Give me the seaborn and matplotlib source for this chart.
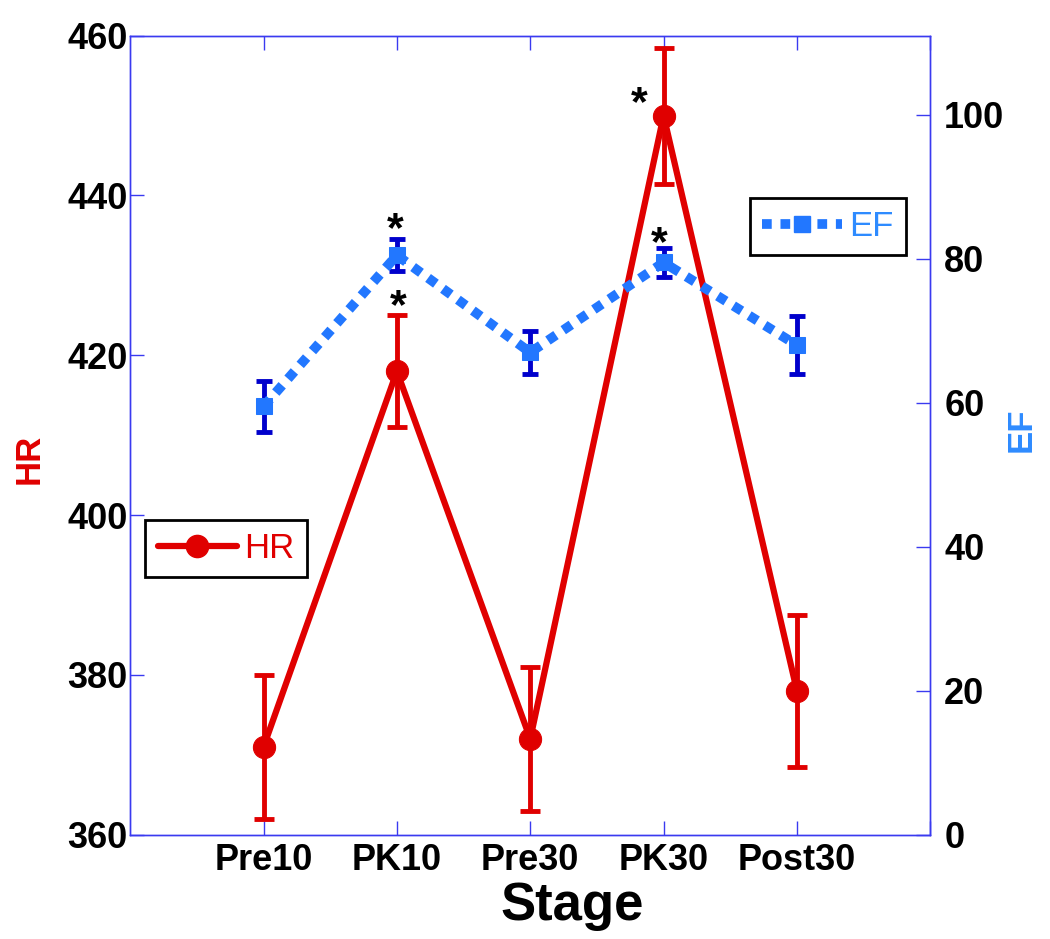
import numpy as np
import matplotlib.pyplot as plt
import seaborn as sns
from matplotlib.lines import Line2D

# values
stages = ["Pre10", "PK10", "Pre30", "PK30", "Post30"]
hr_mean = [371, 418, 372, 450, 378]
hr_err = [9, 7, 9, 8.5, 9.5]
ef_mean = [59.5, 80.5, 67, 79.5, 68]
ef_err = [3.5, 2.2, 3, 2, 4]

sns.set_style("white")
plt.rcParams["font.family"] = ["Liberation Sans", "DejaVu Sans"]

red = "#e00000"
blue = "#2277ff"
label_blue = "#2e8bff"
dark_blue = "#0000cc"
spine_blue = "#3a3af0"

x = np.arange(1, len(stages) + 1)

fig = plt.figure(figsize=(10.5, 9.39), dpi=100)
ax = fig.add_axes([0.124, 0.111, 0.762, 0.851])
ax2 = ax.twinx()

# HR on the left axis
ax.errorbar(x, hr_mean, yerr=hr_err, fmt="none", ecolor=red, elinewidth=3.5,
            capsize=7, capthick=3.5, zorder=2)
sns.lineplot(x=x, y=hr_mean, ax=ax, color=red, linewidth=4.5, marker="o",
             markersize=16, markeredgecolor=red, zorder=3)

# EF on the right axis
ax2.errorbar(x, ef_mean, yerr=ef_err, fmt="none", ecolor=dark_blue, elinewidth=3.5,
             capsize=6, capthick=3.5, zorder=2)
sns.lineplot(x=x, y=ef_mean, ax=ax2, color=blue, linewidth=7,
             linestyle=(0, (1.0, 0.9)), dash_capstyle="butt", marker="s",
             markersize=12, markeredgecolor=blue, zorder=3)

ax.set_xlim(0, 6)
ax.set_ylim(360, 460)
ax.set_yticks([360, 380, 400, 420, 440, 460])
ax2.set_ylim(0, 111)
ax2.set_yticks([0, 20, 40, 60, 80, 100])
ax.set_xticks(x)
ax.set_xticks([6], minor=True)
ax.set_xticklabels(stages)

for a in (ax, ax2):
    for s in a.spines.values():
        s.set_color(spine_blue)
        s.set_linewidth(1.0)
        s.set_visible(True)

ax.tick_params(axis="x", which="both", direction="in", length=10, width=1,
               color=spine_blue, top=True, bottom=True, pad=6,
               labelsize=26, labelcolor="black")
ax.tick_params(axis="y", direction="in", length=10, width=1, color=spine_blue,
               left=True, right=False, pad=2, labelsize=26, labelcolor="black")
ax2.tick_params(axis="y", direction="in", length=10, width=1, color=spine_blue,
                right=True, pad=10, labelsize=26, labelcolor="black")
for lab in ax.get_xticklabels() + ax.get_yticklabels() + ax2.get_yticklabels():
    lab.set_fontweight("bold")

ax.set_xlabel("Stage", fontsize=38, fontweight="bold", color="black")
ax.xaxis.set_label_coords(0.5525, -0.058)
ax.set_ylabel("HR", fontsize=25, fontweight="bold", color=red)
ax.yaxis.set_label_coords(-0.106, 0.47)
ax2.set_ylabel("EF", fontsize=25, fontweight="bold", color=label_blue, rotation=90)
ax2.yaxis.set_label_coords(1.093, 0.507)

# significance markers
star = dict(fontsize=31, fontweight="bold", ha="center", va="center", color="black")
ax.text(2.01, 426.0, "*", **star)
ax.text(3.82, 451.5, "*", **star)
ax2.text(1.99, 84.0, "*", **star)
ax2.text(3.97, 82.0, "*", **star)

# legends
hr_handle = Line2D([], [], color=red, linewidth=4.5, marker="o", markersize=16)
ef_handle = Line2D([], [], color=blue, linewidth=7, linestyle=(0, (1.0, 0.9)),
                   marker="s", markersize=12, dash_capstyle="butt")
leg1 = ax.legend(handles=[hr_handle], labels=["HR"], loc="lower left",
                 bbox_to_anchor=(0.019, 0.322), borderaxespad=0, fontsize=25,
                 labelcolor=red, fancybox=False, edgecolor="black", framealpha=1,
                 handlelength=2.3, handletextpad=0.2, borderpad=0.35)
leg1.get_frame().set_linewidth(2)
leg2 = ax2.legend(handles=[ef_handle], labels=["EF"], loc="lower left",
                  bbox_to_anchor=(0.775, 0.725), borderaxespad=0, fontsize=25,
                  labelcolor=label_blue, fancybox=False, edgecolor="black",
                  framealpha=1, handlelength=2.3, handletextpad=0.2, borderpad=0.35)
leg2.get_frame().set_linewidth(2)

fig.savefig("out.png", dpi=100)
